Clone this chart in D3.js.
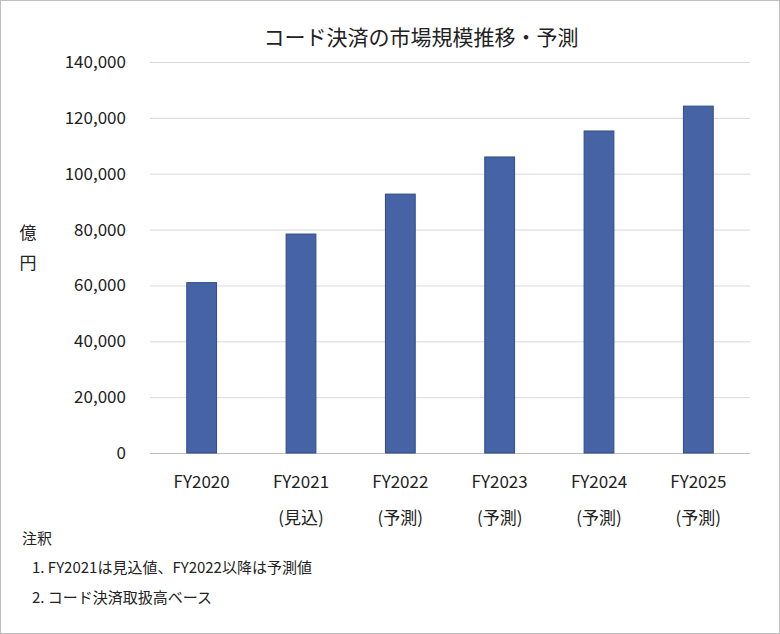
<!DOCTYPE html>
<html><head><meta charset="utf-8">
<script src="https://cdn.jsdelivr.net/npm/d3@7"></script>
<style>body{margin:0;background:#fff}svg{display:block;font-family:"Noto Sans CJK JP","Noto Sans",sans-serif}</style>
</head><body>
<script>
const categories = ["FY2020","FY2021","FY2022","FY2023","FY2024","FY2025"];
const subLabels = ["","(見込)","(予測)","(予測)","(予測)","(予測)"];
const values = [61000,78400,92700,106000,115300,124200];
const yTicks = [0,20000,40000,60000,80000,100000,120000,140000];
const title = "コード決済の市場規模推移・予測";
const notes = ["注釈","1. FY2021は見込値、FY2022以降は予測値","2. コード決済取扱高ベース"];

const W=780,H=634;
const svg=d3.select("body").append("svg").attr("width",W).attr("height",H);
svg.append("rect").attr("x",0.5).attr("y",0.5).attr("width",W-1).attr("height",H-1).attr("fill","#fff").attr("stroke","#bfbfbf");
const x=d3.scaleBand().domain(categories).range([152,748]).paddingInner(0.7).paddingOuter(0.35);
const y=d3.scaleLinear().domain([0,140000]).range([453,62]);
svg.append("text").attr("x",421).attr("y",45).attr("text-anchor","middle").attr("font-size",21).attr("fill","#222").text(title);
svg.append("g").selectAll("line").data(yTicks).join("line")
 .attr("x1",150).attr("x2",750).attr("y1",d=>y(d)+0.5).attr("y2",d=>y(d)+0.5)
 .attr("stroke",d=>d===0?"#bfbfbf":"#d9d9d9");
svg.append("g").selectAll("text").data(yTicks).join("text")
 .attr("x",126).attr("y",d=>y(d)+6).attr("text-anchor","end").attr("font-size",17).attr("fill","#222")
 .text(d3.format(","));
svg.append("g").selectAll("rect").data(values).join("rect")
 .attr("x",(d,i)=>x(categories[i])).attr("width",x.bandwidth())
 .attr("y",d=>y(d)).attr("height",d=>y(0)-y(d))
 .attr("fill","#4664a5").attr("stroke","#2f4b8a").attr("stroke-width",1);
const cx=c=>x(c)+x.bandwidth()/2;
svg.append("g").selectAll("text").data(categories).join("text")
 .attr("x",cx).attr("y",488).attr("text-anchor","middle").attr("font-size",17).attr("fill","#222").text(d=>d);
svg.append("g").selectAll("text").data(subLabels).join("text")
 .attr("x",(d,i)=>cx(categories[i])).attr("y",524).attr("text-anchor","middle").attr("font-size",17).attr("fill","#222").text(d=>d);
svg.append("text").attr("x",28).attr("y",239).attr("text-anchor","middle").attr("font-size",17).attr("fill","#222").text("億");
svg.append("text").attr("x",28).attr("y",269).attr("text-anchor","middle").attr("font-size",17).attr("fill","#222").text("円");
svg.append("text").attr("x",22).attr("y",544).attr("font-size",15).attr("fill","#222").text(notes[0]);
svg.append("text").attr("x",32).attr("y",573).attr("font-size",15).attr("fill","#222").text(notes[1]);
svg.append("text").attr("x",32).attr("y",603).attr("font-size",15).attr("fill","#222").text(notes[2]);
</script>
</body></html>
